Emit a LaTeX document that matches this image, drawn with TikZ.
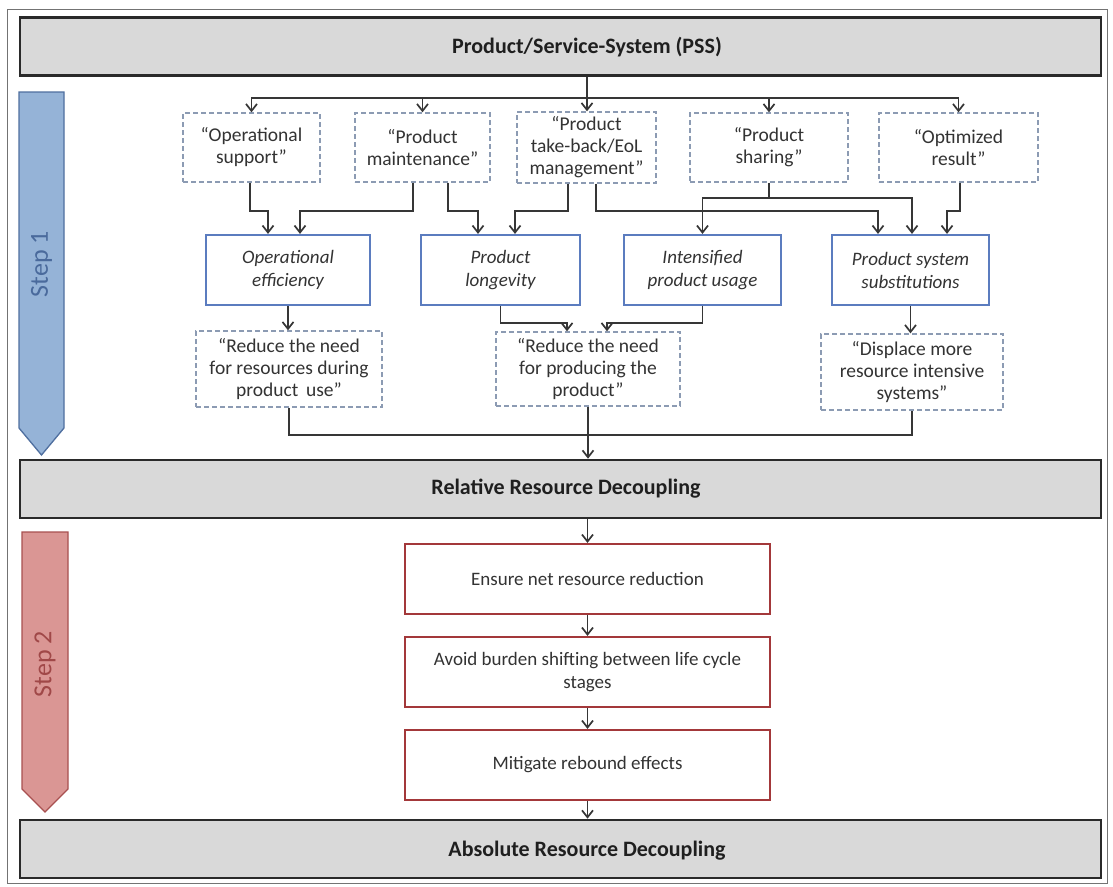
\documentclass[tikz,border=0pt]{standalone}
\usepackage{fontspec}
\setmainfont{Carlito}
\usetikzlibrary{arrows.meta,calc}
\definecolor{boxgray}{HTML}{D9D9D9}
\definecolor{frameblk}{HTML}{2A2A2A}
\definecolor{dashc}{HTML}{8C9BB3}
\definecolor{bluec}{HTML}{5B7CBF}
\definecolor{redc}{HTML}{A3383A}
\definecolor{linec}{HTML}{363636}
\definecolor{txtc}{HTML}{333333}
\definecolor{stepAfill}{HTML}{95B3D7}
\definecolor{stepAdraw}{HTML}{4F6F9F}
\definecolor{stepAtxt}{HTML}{4A6A9C}
\definecolor{stepBfill}{HTML}{DA9694}
\definecolor{stepBdraw}{HTML}{A85050}
\definecolor{stepBtxt}{HTML}{A04848}
\tikzset{
  graybox/.style={draw=frameblk, fill=boxgray, line width=2.6pt, minimum width=1081pt, minimum height=58pt, inner sep=0pt},
  bigtxt/.style={font=\fontsize{22}{26}\selectfont\bfseries, text=black!88, inner sep=0pt},
  dashbox/.style={draw=dashc, line width=1.4pt, dash pattern=on 5pt off 3pt, align=center, text=txtc, font=\fontsize{19.5}{22}\selectfont, inner sep=0pt},
  bluebox/.style={draw=bluec, line width=2.2pt, align=center, text=txtc, font=\fontsize{19}{23}\selectfont\itshape, inner sep=0pt, minimum height=70pt},
  redbox/.style={draw=redc, line width=2.2pt, align=center, text=txtc, font=\fontsize{19}{23}\selectfont, inner sep=0pt, minimum width=365pt, minimum height=70pt},
  arr/.style={draw=linec, line width=1.7pt, -{Straight Barb[length=7pt,width=11pt]}},
  conn/.style={draw=linec, line width=1.7pt},
  steptxt/.style={font=\fontsize{26}{30}\selectfont, rotate=90, inner sep=0pt}
}
\begin{document}
\begin{tikzpicture}[x=1pt,y=-1pt]
\useasboundingbox (0,0) rectangle (1113,886);
\fill[white] (0,0) rectangle (1113,886);
\draw[black!55, line width=1pt] (7,9) rectangle (1107,883);

% step arrows
\draw[fill=stepAfill, draw=stepAdraw, line width=1.3pt] (19,92) -- (64,92) -- (64,428) -- (41.5,455) -- (19,428) -- cycle;
\node[steptxt, text=stepAtxt] (s1) at (41.5,264) {Step 1};
\draw[fill=stepBfill, draw=stepBdraw, line width=1.3pt] (22,532) -- (68,532) -- (68,789) -- (45,812) -- (22,789) -- cycle;
\node[steptxt, text=stepBtxt] (s2) at (45,664) {Step 2};

% gray bands
\node[graybox] (pss) at (560.5,46.5) {};
\node[bigtxt] (psst) at (587,47) {Product/Service-System (PSS)};
\node[graybox] (rrd) at (560.5,489) {};
\node[bigtxt] (rrdt) at (566,489) {Relative Resource Decoupling};
\node[graybox] (ard) at (560.5,849) {};
\node[bigtxt] (ardt) at (587,851) {Absolute Resource Decoupling};

% top dashed boxes
\node[dashbox, minimum width=137pt, minimum height=69pt] (d1) at (251.5,147.5) {“Operational\\support”};
\node[dashbox, minimum width=135pt, minimum height=69pt] (d2) at (422.5,147.5) {“Product\\maintenance”};
\node[dashbox, minimum width=139pt, minimum height=71pt] (d3) at (586.5,147.5) {“Product\\take-back/EoL\\management”};
\node[dashbox, minimum width=158pt, minimum height=69pt] (d4) at (769,147.5) {“Product\\sharing”};
\node[dashbox, minimum width=159pt, minimum height=69pt] (d5) at (958.5,147.5) {“Optimized\\result”};

% blue boxes
\node[bluebox, minimum width=164pt] (A) at (288,270) {Operational\\efficiency};
\node[bluebox, minimum width=159pt] (B) at (500.5,270) {Product\\longevity};
\node[bluebox, minimum width=157pt] (C) at (702.5,270) {Intensified\\product usage};
\node[bluebox, minimum width=157pt] (D) at (910.5,270) {Product system\\substitutions};

% lower dashed boxes
\node[dashbox, minimum width=186pt, minimum height=76pt] (L1) at (289,369) {“Reduce the need\\for resources during\\product\, use”};
\node[dashbox, minimum width=184pt, minimum height=74pt] (L2) at (588,369) {“Reduce the need\\for producing the\\product”};
\node[dashbox, minimum width=182pt, minimum height=76pt] (L3) at (912,372) {“Displace more\\resource intensive\\systems”};

% red boxes
\node[redbox] (R1) at (587.5,579) {Ensure net resource reduction};
\node[redbox] (R2) at (587.5,672) {Avoid burden shifting between life cycle\\stages};
\node[redbox] (R3) at (587.5,765) {Mitigate rebound effects};

% PSS bus
\draw[conn] ([xshift=26.5pt]pss.south) -- ++(0,21) coordinate (bus);
\draw[arr] (bus) -| (d1.north);
\draw[arr] (bus) -| (d2.north);
\draw[arr] (bus) -- (bus |- d3.north);
\draw[arr] (bus) -| (d4.north);
\draw[arr] (bus) -| (d5.north);

% dashed -> blue
\draw[arr] ([xshift=-1.5pt]d1.south) -- ++(0,28) -| ([xshift=-20pt]A.north);
\draw[arr] ([xshift=-9.5pt]d2.south) -- ++(0,28) -| ([xshift=12pt]A.north);
\draw[arr] ([xshift=25.5pt]d2.south) -- ++(0,28) -| ([xshift=-22.5pt]B.north);
\draw[arr] ([xshift=-18.5pt]d3.south) -- ++(0,27) -| ([xshift=14.5pt]B.north);
\draw[arr] ([xshift=9.5pt]d3.south) -- ++(0,27) -| ([xshift=-32.5pt]D.north);
\draw[conn] (d4.south) -- ++(0,15) coordinate (j4);
\draw[arr] (j4) -| (C.north);
\draw[arr] (j4) -| ([xshift=1.5pt]D.north);
\draw[arr] ([xshift=1.5pt]d5.south) -- ++(0,28) -| ([xshift=36.5pt]D.north);

% blue -> lower dashed
\draw[arr] (A.south) -- (A.south |- L1.north);
\draw[arr] (B.south) -- ++(0,17) -| ([xshift=-21pt]L2.north);
\draw[arr] (C.south) -- ++(0,17) -| ([xshift=19pt]L2.north);
\draw[arr] (D.south) -- (D.south |- L3.north);

% lower dashed -> RRD
\draw[conn] (L1.south) -- ++(0,27) -| (L3.south);
\draw[arr] (L2.south) -- (L2.south |- rrd.north);

% step 2 chain
\draw[arr] (R1.north |- rrd.south) -- (R1.north);
\draw[arr] (R1.south) -- (R2.north);
\draw[arr] (R2.south) -- (R3.north);
\draw[arr] (R3.south) -- (R3.south |- ard.north);
\end{tikzpicture}
\end{document}
